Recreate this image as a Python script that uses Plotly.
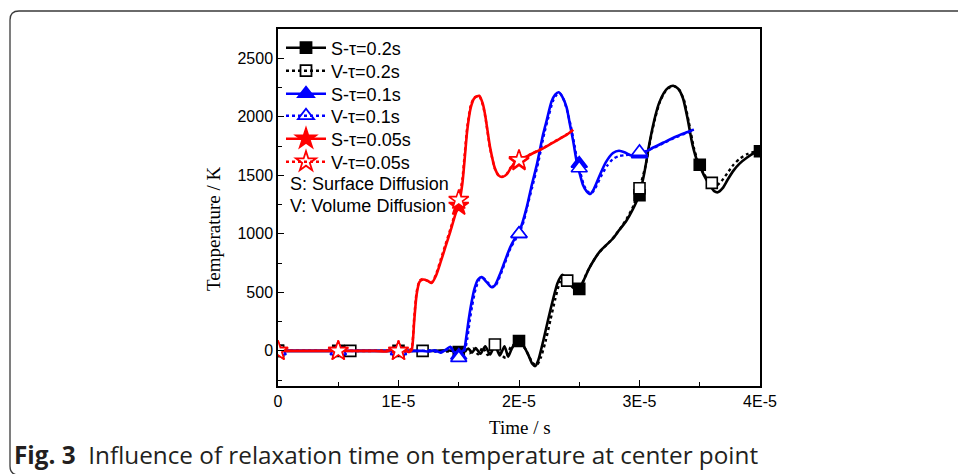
import numpy as np
import plotly.graph_objects as go

# ---------------- data (time in units of 1E-6 s, temperature in K) ----------------
t_s02 = [0, 5, 10, 13, 14, 15, 15.5, 15.8, 16.1, 16.4, 16.8, 17.2, 17.6, 18.0, 18.4, 18.8, 19.1, 19.4, 19.7,
         20.0, 20.4, 20.8, 21.1, 21.35, 21.6, 22.0, 22.4, 22.8, 23.2, 23.6, 23.9, 24.3, 24.7, 25.0, 25.4,
         25.8, 26.3, 26.8, 27.3, 27.8, 28.3, 28.9, 29.4, 30.0, 30.4, 30.8, 31.2, 31.6, 32.0, 32.4, 32.8,
         33.2, 33.6, 34.0, 34.4, 34.8, 35.0, 35.4, 35.8, 36.2, 36.5, 36.9, 37.3, 37.8, 38.3, 38.9, 39.5, 40.0]
T_s02 = [0, 0, 0, 0, 5, -5, 0, 20, -15, 25, -25, 40, -30, 50, -40, 40, -50, 20, 70,
         85, 40, -40, -110, -130, -80, 80, 260, 430, 580, 650, 620, 560, 525, 530, 610,
         700, 790, 860, 910, 960, 1030, 1110, 1200, 1340, 1520, 1760, 1960, 2110, 2200, 2250, 2265,
         2240, 2160, 1980, 1760, 1620, 1580, 1490, 1420, 1365, 1355, 1390, 1460, 1540, 1600, 1650, 1690, 1710]

t_v02 = [0, 5, 10, 13, 14, 15, 15.5, 15.9, 16.2, 16.6, 17.0, 17.4, 17.8, 18.0, 18.5, 18.9, 19.3, 19.7,
         20.1, 20.5, 20.9, 21.2, 21.5, 21.8, 22.2, 22.6, 23.0, 23.4, 23.8, 24.1, 24.5, 24.9, 25.2, 25.6,
         26.0, 26.5, 27.0, 27.5, 28.0, 28.5, 29.0, 29.5, 30.0, 30.5, 30.9, 31.3, 31.7, 32.1, 32.5, 32.9,
         33.3, 33.7, 34.1, 34.5, 34.9, 35.3, 35.7, 36.0, 36.4, 36.8, 37.3, 37.8, 38.3, 38.9, 39.5, 40.0]
T_v02 = [0, 0, 0, 0, -5, 5, 0, -20, 20, -30, 30, -35, 45, 60, -30, -60, 30, 60,
         50, 20, -60, -110, -120, -60, 80, 260, 440, 590, 650, 610, 555, 540, 570, 660,
         740, 820, 880, 930, 990, 1060, 1140, 1240, 1390, 1580, 1800, 1990, 2130, 2210, 2250, 2260,
         2230, 2140, 1950, 1740, 1600, 1520, 1455, 1420, 1415, 1450, 1520, 1590, 1640, 1680, 1700, 1700]

t_s01 = [0, 5, 10, 12, 12.5, 13, 13.5, 14, 14.3, 14.6, 14.9, 15.2, 15.45, 15.6, 15.8, 16.0, 16.3, 16.6,
         16.9, 17.3, 17.7, 18.0, 18.4, 18.8, 19.25, 19.6, 20.0, 20.3, 20.65, 21.0, 21.5, 22.0, 22.3, 22.7,
         23.0, 23.3, 23.6, 23.95, 24.2, 24.5, 24.8, 25.0, 25.3, 25.6, 25.9, 26.2, 26.7, 27.2, 27.8, 28.3,
         28.8, 29.3, 29.7, 30.0, 30.5, 31.0, 32.0, 33.0, 34.0, 34.5]
T_s01 = [0, 0, 0, 0, -5, 5, -15, 15, 35, -10, -30, -10, 10, 100, 250, 380, 530, 610,
         630, 590, 545, 560, 650, 760, 880, 950, 1010, 1100, 1230, 1390, 1600, 1850, 1970, 2130,
         2190, 2210, 2170, 2080, 1950, 1790, 1610, 1530, 1420, 1365, 1340, 1380, 1500, 1610, 1690, 1710,
         1695, 1670, 1665, 1670, 1700, 1730, 1780, 1830, 1870, 1890]

t_v01 = [0, 5, 10, 12, 12.5, 13, 13.5, 14, 14.3, 14.6, 14.9, 15.2, 15.5, 15.7, 15.9, 16.1, 16.4, 16.7,
         17.0, 17.4, 17.8, 18.1, 18.5, 18.9, 19.3, 19.7, 20.0, 20.4, 20.7, 21.1, 21.6, 22.1, 22.4, 22.8,
         23.1, 23.4, 23.7, 24.0, 24.3, 24.6, 24.9, 25.1, 25.4, 25.7, 26.0, 26.3, 26.8, 27.3, 27.8, 28.3,
         28.8, 29.3, 29.7, 30.0, 30.5, 31.0, 32.0, 33.0, 34.0, 34.5]
T_v01 = [0, 0, 0, 0, 5, -5, -10, 10, 30, 0, -40, -20, 10, 100, 250, 380, 530, 610,
         625, 585, 545, 565, 660, 770, 880, 950, 1000, 1110, 1240, 1400, 1610, 1860, 1980, 2130,
         2185, 2200, 2150, 2050, 1920, 1760, 1590, 1520, 1410, 1360, 1345, 1385, 1490, 1580, 1640, 1665,
         1672, 1678, 1684, 1690, 1705, 1725, 1775, 1825, 1865, 1890]

t_s005 = [0, 5, 8, 9, 9.5, 10, 10.5, 10.9, 11.1, 11.3, 11.5, 11.75, 12.05, 12.4, 12.75, 13.1, 13.5,
          13.9, 14.3, 14.7, 15.0, 15.3, 15.5, 15.7, 16.0, 16.3, 16.7, 17.0, 17.2, 17.6, 18.0, 18.3,
          18.6, 19.0, 19.3, 19.6, 20.0, 21.0, 22.0, 23.0, 24.0, 24.5]
T_s005 = [0, 0, 0, -5, 10, -15, 5, -10, 10, 250, 480, 590, 610, 600, 580, 640, 760,
          890, 1020, 1160, 1250, 1430, 1650, 1880, 2080, 2160, 2180, 2110, 2010, 1740, 1560, 1500,
          1485, 1510, 1560, 1600, 1625, 1680, 1730, 1790, 1850, 1890]

t_v005 = [0, 5, 8, 9, 9.5, 10, 10.5, 10.9, 11.1, 11.3, 11.5, 11.75, 12.05, 12.4, 12.75, 13.1, 13.5,
          13.9, 14.3, 14.7, 15.0, 15.3, 15.5, 15.7, 16.0, 16.3, 16.7, 17.0, 17.2, 17.6, 18.0, 18.3,
          18.6, 19.0, 19.3, 19.6, 20.0, 21.0, 22.0, 23.0, 24.0, 24.5]
T_v005 = [0, 0, 0, 5, -10, 10, -5, 5, 30, 280, 500, 600, 615, 598, 585, 650, 780,
          910, 1040, 1180, 1290, 1470, 1690, 1910, 2100, 2165, 2175, 2100, 2000, 1730, 1555, 1498,
          1487, 1515, 1565, 1605, 1630, 1683, 1733, 1792, 1852, 1890]

# marker positions
mk_t_s02 = [0, 5, 10, 15, 20, 25, 30, 35, 40]
mk_T_s02 = [0, 0, 0, -10, 85, 530, 1330, 1590, 1705]
mk_t_v02 = [0, 6, 12, 18, 24, 30, 36]
mk_T_v02 = [0, 0, 0, 55, 600, 1390, 1435]
mk_t_s01 = [0, 5, 10, 15, 20, 25, 30]
mk_T_s01 = [0, 0, 0, -40, 1000, 1600, 1680]
mk_t_v01 = [0, 5, 10, 15, 20, 25, 30]
mk_T_v01 = [0, 0, 0, -60, 1000, 1560, 1700]
mk_t_s005 = [0, 5, 10, 15, 20]
mk_T_s005 = [0, 0, 0, 1240, 1620]
mk_t_v005 = [0, 5, 10, 15, 20]
mk_T_v005 = [0, 0, 0, 1290, 1630]

names = ["S-τ=0.2s", "V-τ=0.2s", "S-τ=0.1s", "V-τ=0.1s", "S-τ=0.05s", "V-τ=0.05s"]
notes = ["S: Surface Diffusion", "V: Volume Diffusion"]
x_tickvals_us = [0, 10, 20, 30, 40]
x_ticktext = ["0", "1E-5", "2E-5", "3E-5", "4E-5"]
y_tickvals = [0, 500, 1000, 1500, 2000, 2500]

US = 1e-6

series = [
    (t_s02, T_s02, mk_t_s02, mk_T_s02, "#000000", "solid", "square", False),
    (t_v02, T_v02, mk_t_v02, mk_T_v02, "#000000", "dot", "square", True),
    (t_s01, T_s01, mk_t_s01, mk_T_s01, "#0000FF", "solid", "triangle-up", False),
    (t_v01, T_v01, mk_t_v01, mk_T_v01, "#0000FF", "dot", "triangle-up", True),
    (t_s005, T_s005, mk_t_s005, mk_T_s005, "#FF0000", "solid", "star", False),
    (t_v005, T_v005, mk_t_v005, mk_T_v005, "#FF0000", "dot", "star", True),
]
msize = {"square": 11, "triangle-up": 14, "star": 15}

fig = go.Figure()
for (tx, ty, mx, my, col, dash, sym, openm), name in zip(series, names):
    fig.add_trace(go.Scatter(
        x=np.array(tx) * US, y=ty, mode="lines", showlegend=False,
        line=dict(color=col, width=2.6 if dash == "solid" else 2.4, dash=dash, shape="spline", smoothing=0.6),
        hoverinfo="skip"))
    fig.add_trace(go.Scatter(
        x=np.array(mx) * US, y=my, mode="markers", showlegend=False,
        marker=dict(symbol=sym, size=msize[sym], color="#FFFFFF" if openm else col,
                    line=dict(color=col, width=1.6)),
        hoverinfo="skip"))

# ------------- layout (pixel geometry of the 958x474 picture) -------------
W, H = 958, 474
L, R, T, B = 278, 760, 29, 386


def px(x):
    return (x - L) / (R - L)


def py(y):
    return (B - y) / (B - T)


legend_font = dict(family="Liberation Sans, Arial", size=18, color="#000000")
legend_rows = [48, 71, 94, 116, 139, 162]
note_rows = [184, 206]

# legend entries: one single-item legend per row so the row pitch matches the reference
legend_layout = {}
for i, ((tx, ty, mx, my, col, dash, sym, openm), name) in enumerate(zip(series, names)):
    lg = "legend" if i == 0 else f"legend{i + 1}"
    fig.add_trace(go.Scatter(
        x=[None], y=[None], mode="lines+markers", name=name, legend=lg,
        line=dict(color=col, width=2.6 if dash == "solid" else 2.4, dash=dash),
        marker=dict(symbol=sym + ("-open" if openm else ""), size=msize[sym], color=col,
                    line=dict(color=col, width=1.8))))
    legend_layout[lg] = dict(x=px(281), y=py(legend_rows[i]), xanchor="left", yanchor="middle",
                             bgcolor="rgba(0,0,0,0)", font=legend_font, itemwidth=40, borderwidth=0)

axis_font = dict(family="Liberation Sans, Arial", size=16, color="#000000")
fig.update_layout(
    width=W, height=H,
    margin=dict(l=L, r=W - R, t=T, b=H - B),
    paper_bgcolor="white", plot_bgcolor="white",
    showlegend=True,
    xaxis=dict(range=[0, 40 * US], tickmode="array", tickvals=[v * US for v in x_tickvals_us],
               ticktext=x_ticktext, ticks="inside", ticklen=6, tickwidth=1.3, tickcolor="#000",
               minor=dict(tickmode="linear", tick0=0, dtick=5 * US, ticks="inside", ticklen=4,
                          tickwidth=1.3, tickcolor="#000"),
               showline=True, linecolor="#000", linewidth=1.5, mirror=True,
               showgrid=False, zeroline=False, tickfont=axis_font),
    yaxis=dict(range=[-300, 2750], tickmode="array", tickvals=y_tickvals,
               ticks="inside", ticklen=6, tickwidth=1.3, tickcolor="#000",
               minor=dict(tickmode="linear", tick0=0, dtick=250, ticks="inside", ticklen=4,
                          tickwidth=1.3, tickcolor="#000"),
               showline=True, linecolor="#000", linewidth=1.5, mirror=True,
               showgrid=False, zeroline=False, tickfont=axis_font),
    **legend_layout,
)

serif = dict(family="Liberation Serif, Times New Roman", size=19, color="#000000")
ann = [
    dict(x=px(520), y=py(427), text="Time / s", font=serif),
    dict(x=px(213), y=py(229), text="Temperature / K", font=serif, textangle=-90),
    dict(x=px(288), y=py(note_rows[0]), text=notes[0], xanchor="left", font=legend_font),
    dict(x=px(288), y=py(note_rows[1]), text=notes[1], xanchor="left", font=legend_font),
    dict(x=px(12), y=py(454), xanchor="left",
         text="<b>Fig. 3</b>\u00a0\u00a0Influence of relaxation time on temperature at center point",
         font=dict(family="Open Sans, Noto Sans", size=24.3, color="#231F20")),
]
for a in ann:
    a.setdefault("xanchor", "center")
    fig.add_annotation(xref="paper", yref="paper", yanchor="middle", showarrow=False, **a)

# rounded outer frame of the figure panel (bottom edge falls just outside the picture)
x0, y0, y1, r = 10, 11, 475, 9
path = (f"M {px(W + 5)},{py(y0)} L {px(x0 + r)},{py(y0)} "
        f"Q {px(x0)},{py(y0)} {px(x0)},{py(y0 + r)} "
        f"L {px(x0)},{py(y1 - r)} Q {px(x0)},{py(y1)} {px(x0 + r)},{py(y1)} L {px(W + 5)},{py(y1)}")
fig.add_shape(type="path", xref="paper", yref="paper", path=path,
              line=dict(color="#3a3a3a", width=1.3), layer="below")

fig.write_html("out.html", config={"displayModeBar": False},
               post_script="document.body.style.margin='0px';")
